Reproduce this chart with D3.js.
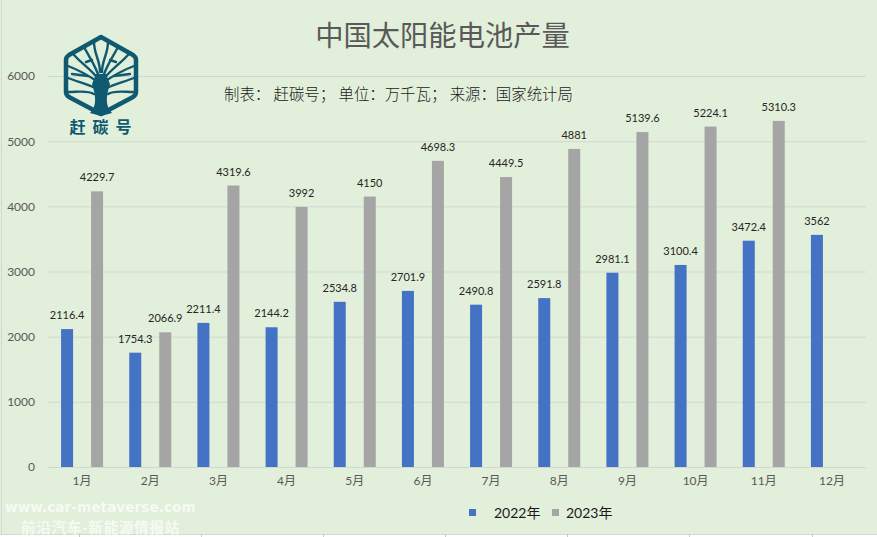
<!DOCTYPE html>
<html>
<head>
<meta charset="utf-8">
<script src="https://cdn.jsdelivr.net/npm/d3@7"></script>
<style>
html, body { margin: 0; padding: 0; background: #e2efda; overflow: hidden; }
svg { display: block; font-family: Lato, "Noto Sans CJK SC", sans-serif; }
</style>
</head>
<body>
<script>
// chart values
var months = ["1月","2月","3月","4月","5月","6月","7月","8月","9月","10月","11月","12月"];
var seriesNames = ["2022年","2023年"];
var values2022 = [2116.4,1754.3,2211.4,2144.2,2534.8,2701.9,2490.8,2591.8,2981.1,3100.4,3472.4,3562];
var values2023 = [4229.7,2066.9,4319.6,3992,4150,4698.3,4449.5,4881,5139.6,5224.1,5310.3,null];
var yTicks = [0,1000,2000,3000,4000,5000,6000];
var seriesColors = ["#4472c4","#a5a5a5"];

var width = 877, height = 537;
var margin = {left: 48, right: 11, top: 76, bottom: 70};
var barWidth = 12;

var svg = d3.select("body").append("svg")
    .attr("width", width)
    .attr("height", height);

svg.append("rect")
    .attr("width", width)
    .attr("height", height)
    .attr("fill", "#e2efda");

// outer cell lines of the spreadsheet
svg.append("line").attr("x1", 1.5).attr("x2", 1.5).attr("y1", 0).attr("y2", 534)
    .attr("stroke", "#d3d8d0");
svg.append("rect").attr("x", 0).attr("y", 534).attr("width", width).attr("height", 3)
    .attr("fill", "#ffffff");
svg.append("line").attr("x1", 0).attr("x2", width).attr("y1", 534.5).attr("y2", 534.5)
    .attr("stroke", "#d3d8d0");
[79, 201, 323, 445, 567, 689, 812].forEach(function(cx) {
    svg.append("line").attr("x1", cx + 0.5).attr("x2", cx + 0.5).attr("y1", 534).attr("y2", 537)
        .attr("stroke", "#c8c8c8");
});

var x = d3.scaleBand()
    .domain(months)
    .range([margin.left, width - margin.right]);

// offset of each series' bar centre from the start of its month band
var xInner = d3.scalePoint()
    .domain(seriesNames)
    .range([x.bandwidth() / 2 - 15, x.bandwidth() / 2 + 15]);

var y = d3.scaleLinear()
    .domain([0, 6000])
    .range([height - margin.bottom, margin.top]);

// Y axis with gridlines
var yAxis = svg.append("g")
    .attr("transform", "translate(" + margin.left + ",0)")
    .call(d3.axisLeft(y).tickValues(yTicks).tickFormat(d3.format("d"))
        .tickSize(-(width - margin.left - margin.right)).tickPadding(13));
yAxis.select(".domain").remove();
yAxis.selectAll("line").attr("stroke", "#cfd9d2").attr("stroke-width", 1);
yAxis.selectAll("text")
    .attr("fill", "#595959")
    .style("font-size", "12px")
    .style("font-family", "Lato, 'Noto Sans CJK SC', sans-serif");

// X axis
var xAxis = svg.append("g")
    .attr("transform", "translate(0," + y(0) + ")")
    .call(d3.axisBottom(x).tickSize(0).tickPadding(9));
xAxis.select(".domain").attr("stroke", "#cfd9d2");
xAxis.selectAll("text")
    .attr("fill", "#595959")
    .style("font-size", "12px")
    .style("font-family", "Lato, 'Noto Sans CJK SC', sans-serif");

// bars and their labels
[values2022, values2023].forEach(function(values, s) {
    var rows = months
        .map(function(m, i) { return {month: m, value: values[i]}; })
        .filter(function(d) { return d.value !== null; });

    svg.selectAll("rect.s" + s)
        .data(rows)
        .join("rect")
            .attr("class", "s" + s)
            .attr("x", function(d) { return x(d.month) + xInner(seriesNames[s]) - barWidth / 2; })
            .attr("y", function(d) { return y(d.value); })
            .attr("width", barWidth)
            .attr("height", function(d) { return y(0) - y(d.value); })
            .attr("fill", seriesColors[s]);

    svg.selectAll("text.s" + s)
        .data(rows)
        .join("text")
            .attr("class", "s" + s)
            .attr("x", function(d) { return x(d.month) + xInner(seriesNames[s]); })
            .attr("y", function(d) { return y(d.value) - 10; })
            .attr("text-anchor", "middle")
            .attr("fill", "#262626")
            .style("font-size", "11px")
            .text(function(d) { return d.value; });
});

// title and source line
svg.append("text")
    .attr("x", 442.5).attr("y", 46)
    .attr("text-anchor", "middle")
    .attr("fill", "#595959")
    .style("font-size", "28.3px")
    .style("font-family", "'Noto Sans CJK SC', sans-serif")
    .text("中国太阳能电池产量");

svg.append("text")
    .attr("x", 224).attr("y", 100)
    .attr("fill", "#222222")
    .style("font-size", "15.4px")
    .style("font-weight", "300")
    .style("font-family", "'Noto Sans CJK SC', sans-serif")
    .text("制表： 赶碳号； 单位：万千瓦； 来源：国家统计局");

// legend
var legendX = [469, 552], legendTextX = [494, 566];
seriesNames.forEach(function(name, i) {
    svg.append("rect")
        .attr("x", legendX[i]).attr("y", 509)
        .attr("width", 7).attr("height", 7)
        .attr("fill", seriesColors[i]);
    svg.append("text")
        .attr("x", legendTextX[i]).attr("y", 518)
        .attr("fill", "#1a1a1a")
        .style("font-size", "14px")
        .text(name);
});

// logo: hexagon with a tree inside
var logo = svg.append("g").attr("fill", "none").attr("stroke", "#0f5a70")
    .attr("stroke-linejoin", "round").attr("stroke-linecap", "round");
logo.append("path")
    .attr("d", "M101,37 L133,55 Q136,57 136,60 L136,92 Q136,95 133,97 L101,114 L69,97 Q66,95 66,92 L66,60 Q66,57 69,55 Z")
    .attr("stroke-width", 4.5);
var branches = [
    "M101,84 C92,78 84,72 68,66",
    "M101,84 C110,78 118,72 134,66",
    "M99,80 C90,68 84,66 74,55",
    "M103,80 C112,68 118,66 128,55",
    "M100,80 C96,66 92,62 84,47",
    "M102,80 C106,66 110,62 118,47",
    "M100,72 C100,60 94,54 94,42",
    "M102,72 C102,60 108,54 108,42",
    "M95,88 C88,84 78,82 68,78",
    "M107,88 C114,84 124,82 134,78",
    "M94,94 C88,90 78,92 68,92",
    "M108,94 C114,90 124,92 134,92",
    "M88,76 L72,74",
    "M114,76 L130,74",
    "M92,60 L86,62",
    "M110,60 L116,62"
];
logo.selectAll("path.branch")
    .data(branches)
    .join("path")
        .attr("class", "branch")
        .attr("d", function(d) { return d; })
        .attr("stroke-width", 2.4);
// trunk, flaring into the roots at the hexagon's base
logo.append("path")
    .attr("d", "M90,113 C97,106 96,96 92,84 L96,74 L106,74 L110,84 C106,96 105,106 112,113 L101,116 Z")
    .attr("fill", "#0f5a70").attr("stroke", "none");

svg.append("text")
    .attr("x", 104).attr("y", 133)
    .attr("text-anchor", "middle")
    .attr("fill", "#0f5a70")
    .style("font-size", "16px")
    .style("font-weight", "700")
    .style("letter-spacing", "7px")
    .style("font-family", "'Noto Sans CJK SC', sans-serif")
    .text("赶碳号");

// watermark
svg.append("text")
    .attr("x", 5).attr("y", 512)
    .attr("fill", "#ffffff").attr("fill-opacity", 0.7)
    .style("font-size", "13.7px")
    .style("font-weight", "700")
    .style("font-family", "'DejaVu Sans', sans-serif")
    .text("www.car-metaverse.com");
svg.append("text")
    .attr("x", 21).attr("y", 532.5)
    .attr("fill", "#ffffff").attr("fill-opacity", 0.7)
    .style("font-size", "14.5px")
    .style("font-weight", "700")
    .style("letter-spacing", "0.8px")
    .style("font-family", "'Noto Sans CJK SC', sans-serif")
    .text("前沿汽车-新能源情报站");
</script>
</body>
</html>
